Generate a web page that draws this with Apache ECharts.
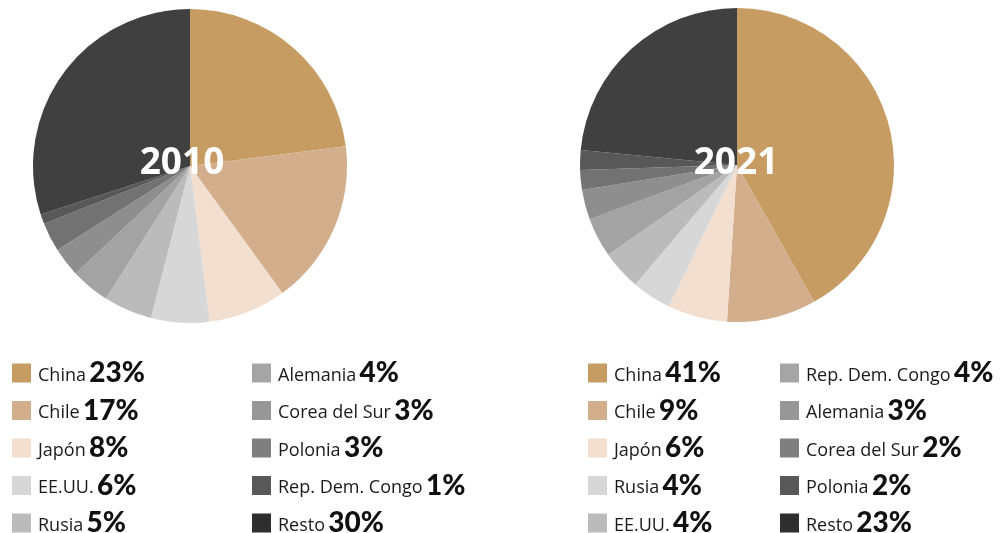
<!DOCTYPE html>
<html>
<head>
<meta charset="utf-8">
<title>Pie 2010 / 2021</title>
<script src="https://cdn.jsdelivr.net/npm/echarts@6/dist/echarts.min.js"></script>
<style>
  html, body { margin: 0; padding: 0; background: #fff; }
  #chart { width: 1001px; height: 533px; }
</style>
</head>
<body>
<div id="chart"></div>
<script>
// datos
var names2010 = ['China', 'Chile', 'Japón', 'EE.UU.', 'Rusia', 'Alemania', 'Corea del Sur', 'Polonia', 'Rep. Dem. Congo', 'Resto'];
var values2010 = [23, 17, 8, 6, 5, 4, 3, 3, 1, 30];
var names2021 = ['China', 'Chile', 'Japón', 'Rusia', 'EE.UU.', 'Rep. Dem. Congo', 'Alemania', 'Corea del Sur', 'Polonia', 'Resto'];
var values2021 = [41, 9, 6, 4, 4, 4, 3, 2, 2, 23];

// colores por posición (igual en los dos gráficos)
var sliceColors = ['#C69C63', '#D2AE8C', '#F2DFD0', '#D7D7D7', '#BBBBBB', '#A3A3A3', '#8E8E8E', '#727272', '#585858', '#404040'];
var legendColors = ['#C69C63', '#D2AE8C', '#F2DFD0', '#D7D7D7', '#BBBBBB', '#A5A5A5', '#969696', '#7F7F7F', '#585858', '#2E2E2E'];

var chart = echarts.init(document.getElementById('chart'));

function pieData(names, values) {
  return names.map(function (n, i) {
    return { name: n, value: values[i], itemStyle: { color: sliceColors[i] } };
  });
}

// una leyenda por columna (5 filas cada una)
function makeLegend(names, values, from, left) {
  var items = [];
  for (var i = from; i < from + 5; i++) {
    items.push({ name: names[i], itemStyle: { color: legendColors[i] } });
  }
  return {
    orient: 'vertical',
    left: left,
    top: 359,
    height: 220,
    padding: 0,
    itemWidth: 19,
    itemHeight: 19,
    itemGap: 9.5,
    icon: 'rect',
    selectedMode: false,
    data: items,
    formatter: function (name) {
      var v = values[names.indexOf(name)];
      return '{n|' + name + '} {p|' + v + '%}';
    },
    textStyle: {
      rich: {
        n: { fontFamily: 'Open Sans', fontSize: 18, color: '#1a1a1a', lineHeight: 30, padding: [5, 0, 0, 2] },
        p: { fontFamily: 'Lato', fontWeight: 900, fontSize: 28, color: '#111', lineHeight: 30 }
      }
    }
  };
}

var option = {
  animation: false,
  legend: [
    makeLegend(names2010, values2010, 0, 12),
    makeLegend(names2010, values2010, 5, 252),
    makeLegend(names2021, values2021, 0, 588),
    makeLegend(names2021, values2021, 5, 780)
  ],
  graphic: [
    {
      type: 'text', x: 182, y: 163, z: 100,
      style: { text: '2010', fill: '#fff', font: 'bold 37px "Open Sans"', textAlign: 'center', textVerticalAlign: 'middle' }
    },
    {
      type: 'text', x: 736, y: 163, z: 100,
      style: { text: '2021', fill: '#fff', font: 'bold 37px "Open Sans"', textAlign: 'center', textVerticalAlign: 'middle' }
    }
  ],
  series: [
    {
      name: '2010',
      type: 'pie',
      center: [190, 166],
      radius: 157,
      startAngle: 90,
      clockwise: true,
      label: { show: false },
      labelLine: { show: false },
      emphasis: { disabled: true },
      data: pieData(names2010, values2010)
    },
    {
      name: '2021',
      type: 'pie',
      center: [737, 165],
      radius: 157,
      startAngle: 90,
      clockwise: true,
      label: { show: false },
      labelLine: { show: false },
      emphasis: { disabled: true },
      data: pieData(names2021, values2021)
    }
  ]
};

chart.setOption(option);
</script>
</body>
</html>
